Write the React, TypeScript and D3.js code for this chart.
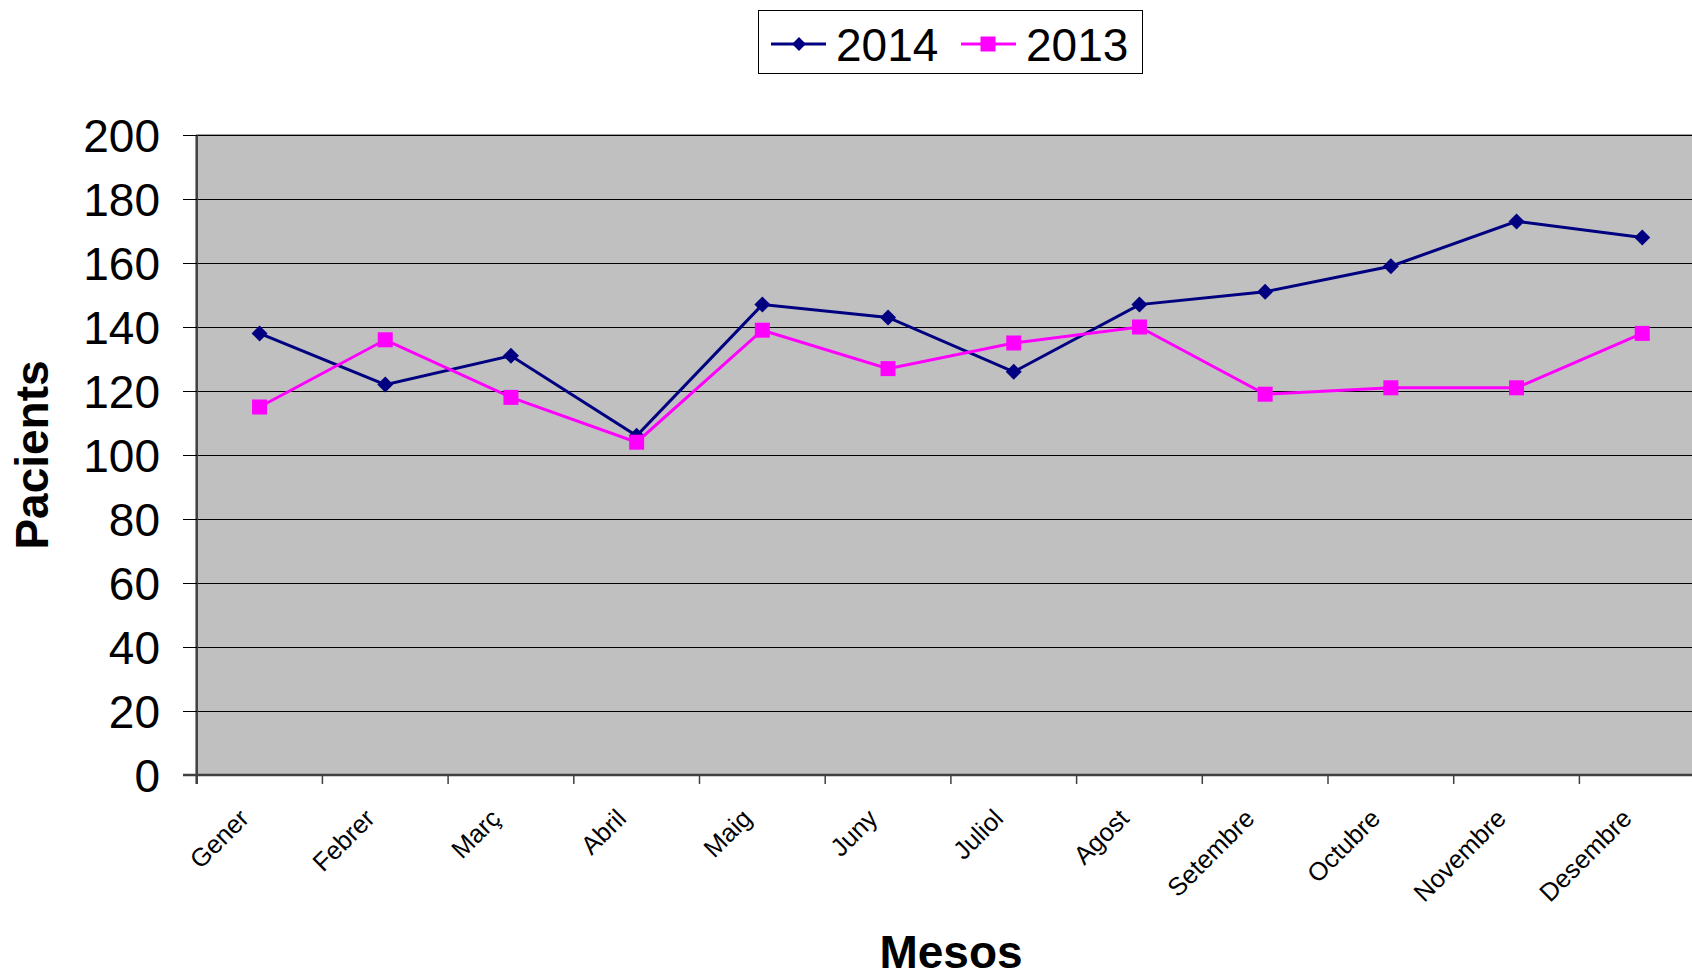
import React from "react";
import * as d3 from "d3";

const months = ["Gener", "Febrer", "Març", "Abril", "Maig", "Juny", "Juliol", "Agost", "Setembre", "Octubre", "Novembre", "Desembre"];
const values2014 = [138, 122, 131, 106, 147, 143, 126, 147, 151, 159, 173, 168];
const values2013 = [115, 136, 118, 104, 139, 127, 135, 140, 119, 121, 121, 138];
const yTicks = [0, 20, 40, 60, 80, 100, 120, 140, 160, 180, 200];
const seriesNames = ["2014", "2013"];

const W = 1692;
const H = 974;
const FONT = "'Liberation Sans', Arial, Helvetica, sans-serif";

export default function App() {
  const left = 196.7;
  const band = 125.7;
  const top = 135;
  const bottom = 775;
  const x = d3.scaleBand<string>().domain(months).range([left, left + band * months.length]).paddingInner(0).paddingOuter(0);
  const y = d3.scaleLinear().domain([0, 200]).range([bottom, top]);
  const cx = (m: string) => (x(m) as number) + x.bandwidth() / 2;
  const plotRight = left + band * months.length;

  const line = d3.line<number>().x((_, i) => cx(months[i])).y((v) => y(v));
  const diamond = d3.symbol().type(d3.symbolSquare).size(128);
  const diamondLegend = d3.symbol().type(d3.symbolSquare).size(95);
  const square = d3.symbol().type(d3.symbolSquare).size(225);

  const navy = "#000080";
  const magenta = "#FF00FF";

  return (
    <svg width={W} height={H} style={{ position: "absolute", left: 0, top: 0, background: "#fff" }} fontFamily={FONT}>
      {/* plot background */}
      <rect x={left} y={top} width={plotRight - left} height={bottom - top} fill="#C0C0C0" stroke="#808080" strokeWidth={1.5} />
      {/* gridlines */}
      {yTicks.filter((t) => t > 0).map((t) => (
        <line key={"g" + t} x1={left} x2={plotRight} y1={y(t)} y2={y(t)} stroke="#000" strokeWidth={1} shapeRendering="crispEdges" />
      ))}
      {/* y axis */}
      <line x1={left} x2={left} y1={top} y2={bottom + 9} stroke="#404040" strokeWidth={2.5} />
      {yTicks.map((t) => (
        <g key={"yt" + t}>
          <line x1={183} x2={left} y1={y(t)} y2={y(t)} stroke="#000" strokeWidth={1} shapeRendering="crispEdges" />
          <text x={160} y={y(t)} dy="0.36em" textAnchor="end" fontSize={46} fill="#000">{t}</text>
        </g>
      ))}
      {/* x axis */}
      <line x1={183} x2={plotRight} y1={bottom} y2={bottom} stroke="#404040" strokeWidth={2.5} />
      {d3.range(months.length + 1).map((i) => (
        <line key={"xt" + i} x1={left + band * i} x2={left + band * i} y1={bottom} y2={bottom + 9} stroke="#404040" strokeWidth={1.5} />
      ))}
      {months.map((m) => (
        <text key={"xl" + m} transform={`translate(${cx(m) - 9},820) rotate(-45)`} textAnchor="end" fontSize={25.5} fill="#000">{m}</text>
      ))}
      {/* series 2014 */}
      <path d={line(values2014) as string} fill="none" stroke={navy} strokeWidth={3} />
      {values2014.map((v, i) => (
        <path key={"d" + i} d={diamond() as string} transform={`translate(${cx(months[i])},${y(v)}) rotate(45)`} fill={navy} />
      ))}
      {/* series 2013 */}
      <path d={line(values2013) as string} fill="none" stroke={magenta} strokeWidth={3} />
      {values2013.map((v, i) => (
        <path key={"s" + i} d={square() as string} transform={`translate(${cx(months[i])},${y(v)})`} fill={magenta} />
      ))}
      {/* axis titles */}
      <text transform="translate(48,455) rotate(-90)" textAnchor="middle" fontSize={46} fontWeight="bold" fill="#000">Pacients</text>
      <text x={951} y={968} textAnchor="middle" fontSize={46} fontWeight="bold" fill="#000">Mesos</text>
      {/* legend */}
      <rect x={758.5} y={10.5} width={384} height={63} fill="#fff" stroke="#000" strokeWidth={1} />
      <line x1={771} x2={826} y1={44} y2={44} stroke={navy} strokeWidth={3} />
      <path d={diamondLegend() as string} transform="translate(799,44) rotate(45)" fill={navy} />
      <text x={836} y={61} fontSize={46} fill="#000">{seriesNames[0]}</text>
      <line x1={961} x2={1016} y1={44} y2={44} stroke={magenta} strokeWidth={3} />
      <path d={square() as string} transform="translate(988,44)" fill={magenta} />
      <text x={1026} y={61} fontSize={46} fill="#000">{seriesNames[1]}</text>
    </svg>
  );
}
